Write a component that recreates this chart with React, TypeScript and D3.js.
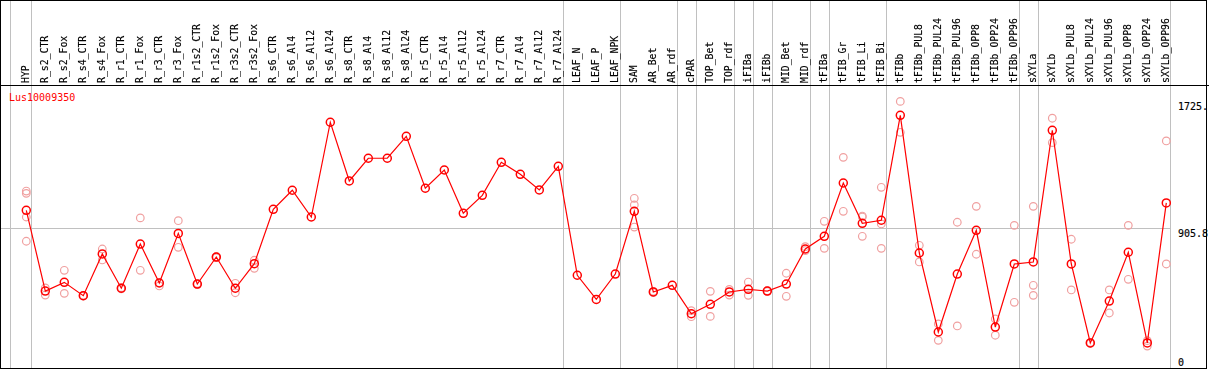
import React from "react";
import * as d3 from "d3";

const geneName = "Lus10009350";

const categories = [
  "HYP", "R_s2_CTR", "R_s2_Fox", "R_s4_CTR", "R_s4_Fox", "R_r1_CTR", "R_r1_Fox", "R_r3_CTR", "R_r3_Fox",
  "R_r1s2_CTR", "R_r1s2_Fox", "R_r3s2_CTR", "R_r3s2_Fox", "R_s6_CTR", "R_s6_Al4", "R_s6_Al12", "R_s6_Al24",
  "R_s8_CTR", "R_s8_Al4", "R_s8_Al12", "R_s8_Al24", "R_r5_CTR", "R_r5_Al4", "R_r5_Al12", "R_r5_Al24",
  "R_r7_CTR", "R_r7_Al4", "R_r7_Al12", "R_r7_Al24", "LEAF_N", "LEAF_P", "LEAF_NPK", "SAM", "AR_Bet", "AR_rdf",
  "cPAR", "TOP_Bet", "TOP_rdf", "iFIBa", "iFIBb", "MID_Bet", "MID_rdf", "tFIBa", "tFIB_Gr", "tFIB_Li", "tFIB_Bi",
  "tFIBb", "tFIBb_PUL8", "tFIBb_PUL24", "tFIBb_PUL96", "tFIBb_OPP8", "tFIBb_OPP24", "tFIBb_OPP96",
  "sXYLa", "sXYLb", "sXYLb_PUL8", "sXYLb_PUL24", "sXYLb_PUL96", "sXYLb_OPP8", "sXYLb_OPP24", "sXYLb_OPP96",
];

const meanValues = [
  1020, 498, 554, 468, 738, 516, 802, 550, 871, 543, 718, 516, 675, 1027, 1150, 977, 1590,
  1210, 1357, 1357, 1499, 1163, 1281, 1001, 1117, 1331, 1253, 1152, 1305, 600, 444, 608,
  1014, 492, 535, 351, 412, 492, 509, 498, 543, 770, 852, 1197, 936, 956,
  1635, 744, 233, 608, 891, 265, 673, 686, 1538, 673, 162, 433, 749, 162, 1068,
];

const replicateValues: number[][] = [
  [1145, 1130, 977, 820], [518, 472], [632, 483], [470, 466], [770, 699], [520, 512], [971, 632],
  [531, 552], [953, 781], [546, 540], [720, 714], [548, 487], [697, 645], [], [], [], [],
  [], [], [], [], [], [], [], [], [], [], [], [], [], [], [],
  [1098, 1055, 912], [496, 488], [], [371, 332], [496, 334], [509, 472], [556, 470], [500, 496],
  [613, 464], [785, 760], [949, 774], [1363, 1014], [983, 977, 852], [1169, 932, 774],
  [1725, 1525], [794, 686], [285, 179], [943, 272], [1046, 736], [317, 212], [923, 425],
  [1046, 535, 470], [1616, 1458], [833, 505], [165, 159], [505, 356], [923, 574], [177, 142], [1469, 673],
];

const groupBoundaries = [0, 28, 31, 34, 35, 37, 38, 39, 41, 42, 45, 52, 53];
const axisTicks = ["0", "905.8", "1725."];
const axisTickValues = [0, 905.8, 1725];

const W = 1209;
const FONT = "'DejaVu Sans Mono', 'Liberation Mono', monospace";

export default function App() {
  const x0 = 26.3;
  const step = 19;
  const x = d3
    .scaleLinear()
    .domain([0, categories.length - 1])
    .range([x0, x0 + step * (categories.length - 1)]);
  const y = d3.scaleLinear().domain([0, 1811.6]).range([368, 88]);

  const line = d3
    .line<number>()
    .x((_, i) => x(i))
    .y((d) => y(d));

  const plotRight = x(categories.length - 1) + 4.2;

  return (
    <svg
      width={W}
      height={370}
      style={{ position: "absolute", left: 0, top: 0, background: "#fff" }}
      shapeRendering="crispEdges"
    >
      <defs>
        <filter id="thick" x="-5%" y="-5%" width="110%" height="110%">
          <feMorphology operator="dilate" radius="0.35 0" />
        </filter>
      </defs>
      <rect x={0} y={0} width={W} height={370} fill="#fff" />
      {/* group separators */}
      <line x1={10.5} x2={10.5} y1={0} y2={369} stroke="#c0c0c0" strokeWidth={1} />
      {groupBoundaries.map((b) => (
        <line
          key={b}
          x1={Math.round(x(b) + 4.4) + 0.5}
          x2={Math.round(x(b) + 4.4) + 0.5}
          y1={0}
          y2={369}
          stroke="#c0c0c0"
          strokeWidth={1}
        />
      ))}
      <line x1={plotRight} x2={plotRight} y1={0} y2={369} stroke="#c0c0c0" strokeWidth={1} />
      {/* mid gridline */}
      <line x1={0} x2={plotRight} y1={Math.round(y(905.8)) + 0.5} y2={Math.round(y(905.8)) + 0.5} stroke="#c0c0c0" strokeWidth={1} />
      {/* frame */}
      <rect x={0.5} y={0.5} width={1206} height={368} fill="none" stroke="#000" strokeWidth={1.2} />
      <line x1={0} x2={1209} y1={85.5} y2={85.5} stroke="#000" strokeWidth={1.2} />
      {/* category labels */}
      <g filter="url(#thick)">
        {categories.map((c, i) => (
          <text
            key={c}
            transform={`translate(${x(i) + 2.2},83) rotate(-90)`}
            fontFamily={FONT}
            fontSize={9.8}
            fill="#000"
            stroke="#000"
            strokeWidth={0.15}
          >
            {c}
          </text>
        ))}
      </g>
      {/* axis labels */}
      {axisTicks.map((t, i) => {
        let yy = y(axisTickValues[i]) + 8.5;
        if (yy > 366) yy = 366;
        return (
          <text key={t} x={1178} y={yy} fontFamily={FONT} fontSize={10} fill="#000" stroke="#000" strokeWidth={0.15}>
            {t}
          </text>
        );
      })}
      <text x={9} y={101} fontFamily={FONT} fontSize={10} fill="#ff0000">
        {geneName}
      </text>
      <g shapeRendering="auto">
        {replicateValues.map((reps, i) =>
          reps.map((v, j) => (
            <circle key={`${i}-${j}`} cx={x(i)} cy={y(v)} r={3.8} fill="none" stroke="#f0a0a0" strokeWidth={1.2} />
          ))
        )}
        <path d={line(meanValues) || ""} fill="none" stroke="#ff0000" strokeWidth={1.2} />
        {meanValues.map((v, i) => (
          <circle key={i} cx={x(i)} cy={y(v)} r={4} fill="none" stroke="#ff0000" strokeWidth={1.5} />
        ))}
      </g>
    </svg>
  );
}
